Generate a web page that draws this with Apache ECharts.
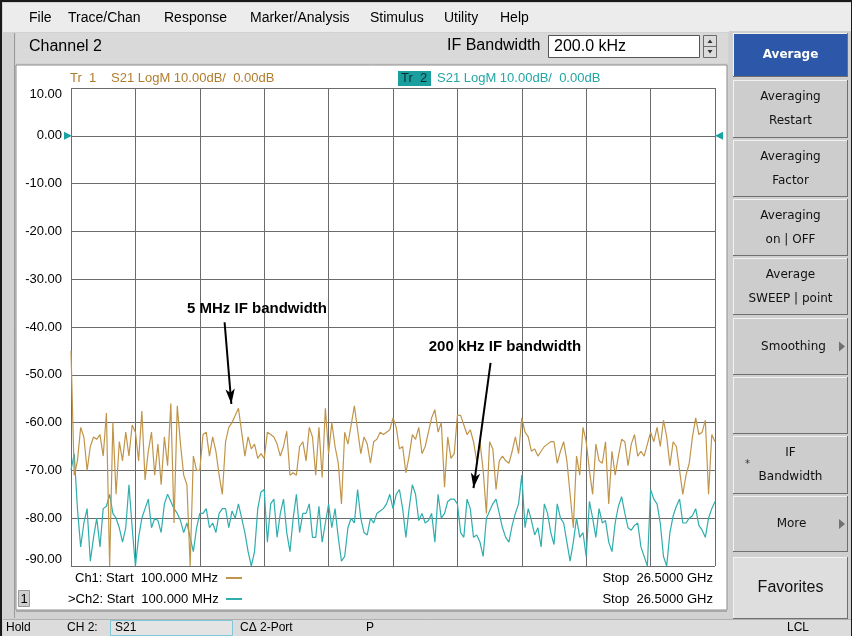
<!DOCTYPE html>
<html>
<head>
<meta charset="utf-8">
<script src="https://cdn.jsdelivr.net/npm/echarts@6/dist/echarts.min.js"></script>
<style>
html,body{margin:0;padding:0;background:#d4d4d4;}
#chart{width:852px;height:636px;}
</style>
</head>
<body>
<div id="chart"></div>
<script>
// ---- Data (dB), 201 points from 100 MHz to 26.5 GHz ----
const yTicks = [10, 0, -10, -20, -30, -40, -50, -60, -70, -80, -90];

// Tr 1 : S21, 5 MHz IF bandwidth (brown)
const tr1 = [
 -45, -71, -68, -61, -63, -70, -65, -63, -63.5, -62.5,
 -67, -58, -90, -60, -75, -64, -68, -62, -67, -60.5,
 -62, -68, -57.6, -72, -66, -62, -71, -64.5, -73, -63,
 -69, -56, -81, -56.5, -64.5, -71, -73, -90, -67, -70,
 -70, -62.5, -62, -67, -63, -66, -71, -75, -64, -61,
 -60, -58.5, -57, -62, -67, -63, -65.5, -64.5, -67.5, -66.5,
 -67.5, -62, -62.5, -63, -64.5, -67, -65, -61.8, -71, -70.5,
 -71, -65, -64, -68, -61, -63, -71, -61, -71.5, -57,
 -66.5, -60, -65, -68.5, -77, -62, -64.5, -60.5, -56.5, -61.5,
 -66.5, -63, -64.5, -68.5, -64, -63.5, -62, -62.5, -62, -61.5,
 -59, -61, -65.5, -65, -70.5, -67, -62.5, -63.5, -61, -66.5,
 -65, -62, -59, -57.3, -62, -60, -73.5, -63, -67.5, -66.5,
 -58.5, -58.5, -60.5, -62.5, -61.5, -64, -68, -64, -70, -79,
 -64, -65.5, -74, -68, -67, -68, -68.5, -66, -63, -66.5,
 -59, -62, -63, -66, -65.5, -67, -66, -65, -64.5, -64,
 -64, -68.5, -66, -64, -68, -75, -82, -67, -71, -61,
 -64, -70, -75, -64.5, -68, -68.5, -64, -77, -66, -71,
 -67, -63.5, -64, -69, -64.5, -62.5, -67, -66, -67, -64.5,
 -62, -64, -61, -65, -59.5, -63, -69, -64, -65, -70,
 -75, -71, -68.5, -63, -59, -62.5, -62, -59.5, -75, -62.5,
 -64
];

// Tr 2 : S21, 200 kHz IF bandwidth (teal)
const tr2 = [
 -70, -66.5, -78, -86, -81, -78, -89, -84, -80, -86,
 -78, -77.5, -75, -79, -80, -82, -85, -82, -73, -82,
 -90, -84, -80, -78, -76, -82, -80, -80.5, -83, -77,
 -75, -76.5, -78, -79, -80.5, -83, -81, -84, -87, -82,
 -79, -79, -78, -82, -81, -83, -79, -78, -78, -82,
 -78.5, -80, -77, -80, -83, -87, -90, -87, -78, -74.5,
 -74, -85, -77, -76, -84, -79, -76, -83, -87, -80,
 -75, -83, -79, -79, -77, -84, -84, -77.5, -85, -81,
 -77, -82, -78, -84, -89, -88, -82, -80, -81, -74,
 -80, -83, -83.5, -80, -81, -79, -78.5, -78, -77, -75,
 -78, -75, -74, -78, -84, -78, -73, -75, -80.5, -79,
 -81, -80.5, -79, -85, -75, -80, -79, -76.5, -76, -76,
 -77, -83, -84, -76, -78, -84, -83.5, -85, -88, -80,
 -78.5, -77, -76, -79, -82, -84, -85, -81.5, -79, -77,
 -71, -82, -78, -80.5, -83.5, -82, -86, -77, -79, -83,
 -85.5, -77, -80, -81, -85, -89, -85, -80, -84, -83,
 -88, -76.5, -80, -84, -78, -81, -80.5, -85, -87, -81,
 -77.5, -75.5, -79, -82, -82.5, -81.5, -81, -86, -88, -90,
 -74, -76, -77, -81, -88, -90, -83, -79.5, -77.5, -76,
 -81, -81, -80, -79.5, -78, -81.5, -82.5, -84, -80, -78,
 -76.5
];

// Annotation arrows in data space [pointIndex, dB]
const arrow5MHz = [[47.7, -39], [49.8, -56.1]];
const arrow200k = [[130.3, -47.5], [125, -73.7]];

const FONT = 'Liberation Sans';
const BTN_FONT = 'DejaVu Sans';
const BROWN = '#c0954a';
const TEAL = '#30adad';

// ---- UI chrome helpers ----
const g = [];
function rect(x, y, w, h, fill, stroke, lw, z) {
  g.push({type: 'rect', z: z || 0, silent: true, shape: {x: x, y: y, width: w, height: h},
    style: {fill: fill || 'none', stroke: stroke || null, lineWidth: lw || 1}});
}
function line(x1, y1, x2, y2, color, lw, z) {
  g.push({type: 'line', z: z || 1, silent: true, shape: {x1: x1, y1: y1, x2: x2, y2: y2},
    style: {stroke: color, lineWidth: lw || 1}});
}
function txt(x, y, s, o) {
  o = o || {};
  g.push({type: 'text', z: o.z || 5, silent: true, x: x, y: y,
    style: {text: s, fill: o.color || '#000', fontFamily: o.family || FONT, fontSize: o.size || 13,
      fontWeight: o.weight || 'normal', align: o.align || 'left', verticalAlign: 'middle'}});
}
function tri(points, color, z) {
  g.push({type: 'polygon', z: z || 5, silent: true, shape: {points: points}, style: {fill: color}});
}
function button(y, h, lines, opts) {
  opts = opts || {};
  const x = 733, w = 115;
  rect(x, y, w, h, opts.fill || '#cdcdcd', null, 0, 1);
  line(x, y + 0.5, x + w, y + 0.5, '#f2f2f2', 1, 2);
  line(x + 0.5, y, x + 0.5, y + h, '#f2f2f2', 1, 2);
  line(x, y + h - 0.5, x + w, y + h - 0.5, '#6f6f6f', 1, 2);
  line(x + w - 0.5, y, x + w - 0.5, y + h, '#6f6f6f', 1, 2);
  const cx = x + w / 2 + (opts.dx || 0);
  const n = lines.length;
  lines.forEach(function (s, i) {
    const cy = y + h / 2 + (i - (n - 1) / 2) * 24;
    txt(cx, cy, s, {align: 'center', family: opts.family || BTN_FONT, size: opts.size || 12,
      color: opts.color || '#111', weight: opts.weight || 'normal'});
  });
  if (opts.arrow) {
    const cy = y + h / 2;
    tri([[839, cy - 5], [845, cy], [839, cy + 5]], '#707070');
  }
}

// background panels
rect(0, 0, 852, 636, '#d2d2d2', null, 0, 0);
rect(3, 3, 849, 29, '#ececec', null, 0, 0);
rect(16, 33, 712, 30, '#d9d9d9', null, 0, 0);
rect(729, 31, 123, 590, '#cfcfcf', null, 0, 0);
rect(16, 65, 711, 545, '#ffffff', '#8c8c8c', 1, 0);
line(16, 611, 727, 611, '#a8a8a8', 2, 1);
rect(3, 619, 849, 17, '#dcdcdc', null, 0, 0);
line(3, 619.5, 852, 619.5, '#b0b0b0', 1, 1);
line(14.5, 33, 14.5, 618, '#9a9a9a', 1, 1);
rect(1, 1, 851, 636, 'none', '#1a1a1a', 2, 10);

// menu bar
[['File', 29], ['Trace/Chan', 68], ['Response', 164], ['Marker/Analysis', 250],
 ['Stimulus', 370], ['Utility', 444], ['Help', 500]].forEach(function (m) {
  txt(m[1], 18, m[0], {size: 14});
});

// channel bar
txt(29, 47, 'Channel 2', {size: 16});
txt(447, 46, 'IF Bandwidth', {size: 16});
rect(548.5, 35.5, 151, 22, '#ffffff', '#555555', 1, 1);
txt(554, 47, '200.0 kHz', {size: 16});
rect(703.5, 35.5, 13, 22, '#dcdcdc', '#6a6a6a', 1, 1);
line(703.5, 46.5, 716.5, 46.5, '#6a6a6a', 1, 2);
tri([[707.5, 43], [710, 39.5], [712.5, 43]], '#333');
tri([[707.5, 50], [710, 53.5], [712.5, 50]], '#333');

// trace headers
txt(70, 78, 'Tr  1', {color: '#b07d2c', size: 13});
txt(111, 78, 'S21 LogM 10.00dB/  0.00dB', {color: '#b07d2c', size: 13});
rect(398, 71, 33, 15, '#1a9e9e', null, 0, 1);
txt(401, 78.5, 'Tr  2', {color: '#0f2f2f', size: 13});
txt(437, 78, 'S21 LogM 10.00dB/  0.00dB', {color: '#22a6a6', size: 13});

// bottom stimulus text
txt(75, 578, 'Ch1: Start  100.000 MHz', {size: 13});
line(226, 578, 242, 578, BROWN, 2, 5);
txt(68, 599, '>Ch2: Start  100.000 MHz', {size: 13});
line(226, 599, 242, 599, TEAL, 2, 5);
txt(713, 578, 'Stop  26.5000 GHz', {size: 13, align: 'right'});
txt(713, 599, 'Stop  26.5000 GHz', {size: 13, align: 'right'});
rect(18.5, 590.5, 11, 16, '#cfcfcf', '#9a9a9a', 1, 1);
txt(24, 599, '1', {size: 13, align: 'center'});

// annotations
txt(257, 309, '5 MHz IF bandwidth', {size: 15, weight: 'bold', align: 'center', z: 20});
txt(505, 347, '200 kHz IF bandwidth', {size: 15, weight: 'bold', align: 'center', z: 20});

// right soft-key panel
button(33, 44, ['Average'], {fill: '#2d57a8', color: '#ffffff', weight: 'bold'});
button(80, 58, ['Averaging', 'Restart']);
button(140, 57, ['Averaging', 'Factor']);
button(199, 57, ['Averaging', 'on | OFF']);
button(258, 57, ['Average', 'SWEEP | point']);
button(318, 57, ['Smoothing'], {arrow: true, dx: 3});
button(377, 57, []);
button(436, 58, ['IF', 'Bandwidth']);
txt(745, 464, '*', {size: 10, color: '#333', family: BTN_FONT});
button(496, 56, ['More'], {arrow: true, dx: 1});
button(557, 62, ['Favorites'], {fill: '#dedede', family: FONT, size: 16});

// status bar
txt(6, 628, 'Hold', {size: 12});
txt(67, 628, 'CH 2:', {size: 12});
rect(110.5, 620.5, 122, 15, '#e4e4e4', '#7fc8d8', 1, 1);
txt(115, 628, 'S21', {size: 12});
txt(240, 628, 'C\u0394 2-Port', {size: 12});
txt(366, 628, 'P', {size: 12});
txt(787, 628, 'LCL', {size: 12});

// ---- Chart ----
const chart = echarts.init(document.getElementById('chart'), null, {renderer: 'canvas'});
const toXY = arr => arr.map((v, i) => [i, v]);

chart.setOption({
  animation: false,
  backgroundColor: 'transparent',
  graphic: g,
  grid: {left: 71, top: 88, width: 644, height: 478, show: true, borderColor: '#6b6b6b', borderWidth: 1,
    backgroundColor: '#ffffff', containLabel: false},
  xAxis: {
    type: 'value', min: 0, max: 200, interval: 20,
    axisLine: {show: false}, axisTick: {show: false}, axisLabel: {show: false},
    splitLine: {show: true, lineStyle: {color: '#6b6b6b', width: 1}}
  },
  yAxis: {
    type: 'value', min: yTicks[yTicks.length - 1], max: yTicks[0], interval: 10,
    axisLine: {show: false}, axisTick: {show: false},
    axisLabel: {
      show: true, margin: 9, color: '#000', fontFamily: FONT, fontSize: 13,
      formatter: v => v.toFixed(2),
      verticalAlignMaxLabel: 'top', verticalAlignMinLabel: 'bottom'
    },
    splitLine: {show: true, lineStyle: {color: '#6b6b6b', width: 1}}
  },
  series: [
    {
      name: 'Tr 2', type: 'line', data: toXY(tr2), showSymbol: false, symbol: 'none',
      lineStyle: {color: TEAL, width: 1.2}, clip: true, z: 3,
      markPoint: {
        silent: true, symbol: 'triangle', symbolSize: 8,
        itemStyle: {color: '#1aa3a3'}, label: {show: false},
        data: [
          {coord: [0, 0], symbolRotate: -90, symbolOffset: [-3, 0]},
          {coord: [200, 0], symbolRotate: 90, symbolOffset: [4, 0]}
        ]
      }
    },
    {
      name: 'Tr 1', type: 'line', data: toXY(tr1), showSymbol: false, symbol: 'none',
      lineStyle: {color: BROWN, width: 1.2}, clip: true, z: 4,
      markLine: {
        silent: true, symbol: ['none', 'arrow'], symbolSize: [7, 15],
        lineStyle: {color: '#000', width: 2, type: 'solid'},
        label: {show: false},
        data: [
          [{coord: arrow5MHz[0]}, {coord: arrow5MHz[1]}],
          [{coord: arrow200k[0]}, {coord: arrow200k[1]}]
        ]
      }
    }
  ]
});
</script>
</body>
</html>
